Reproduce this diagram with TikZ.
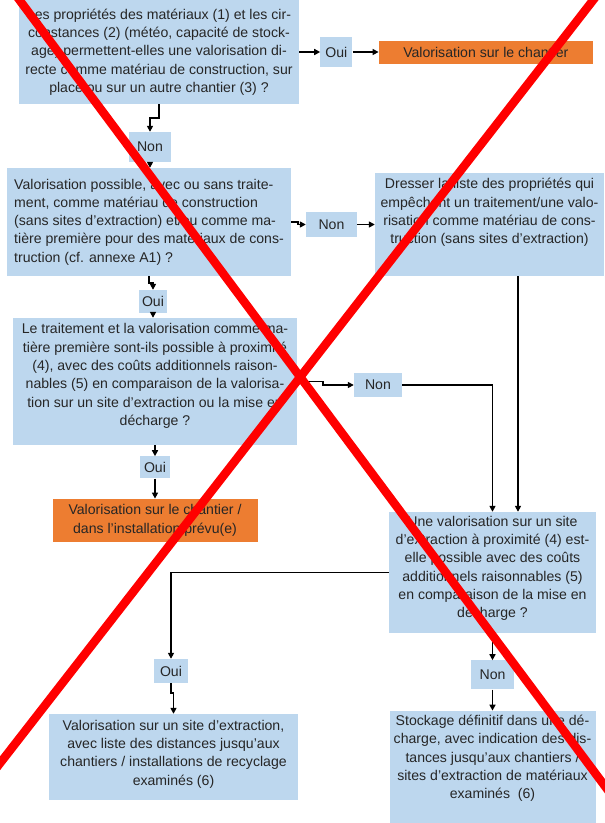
\documentclass[tikz,border=0pt]{standalone}
\usepackage{fontspec}
\setmainfont{Liberation Sans}
\usepackage{xcolor}
\usetikzlibrary{positioning,arrows.meta}

\definecolor{boxblue}{HTML}{BDD7EE}
\definecolor{boxorange}{HTML}{ED7D31}
\newcommand{\boxfont}{\fontsize{14.1}{18.3}\selectfont}

\begin{document}
\begin{tikzpicture}[
  x=1pt, y=-1pt,
  box/.style={fill=boxblue, text=black!85, align=center, inner xsep=4pt,
              inner ysep=3pt, font=\boxfont},
  res/.style={box, fill=boxorange},
  lbl/.style={fill=boxblue, text=black!85, inner sep=0pt, font=\boxfont},
  arr/.style={-{Triangle[length=6pt,width=6pt]}, line width=1.8pt},
  cross/.style={red, line width=8.5pt},
  node distance=20pt
]
  \useasboundingbox (0,0) rectangle (605,823);

  \node[box, minimum width=280pt, minimum height=104pt] (q1) at (159,52)
    {Les propriétés des matériaux (1) et les cir-\\
     constances (2) (météo, capacité de stock-\\
     age) permettent-elles une valorisation di-\\
     recte comme matériau de construction, sur\\
     place ou sur un autre chantier (3) ?};
  \node[lbl, minimum width=32pt, minimum height=30pt, right=21pt of q1] (oui1) {Oui};
  \node[res, minimum width=214pt, minimum height=23pt, right=26pt of oui1] (res1)
    {Valorisation sur le chantier};

  \node[lbl, minimum width=42pt, minimum height=30pt] (non1) at (150,147) {Non};

  \node[box, align=left, minimum width=284pt, minimum height=108pt] (q2)
    at (149,222)
    {Valorisation possible, avec ou sans traite-\\
     ment, comme matériau de construction\\
     (sans sites d’extraction) et/ou comme ma-\\
     tière première pour des matériaux de cons-\\
     truction (cf. annexe A1) ?};
  \node[lbl, minimum width=51pt, minimum height=25pt] (non2) at (331.5,224.5) {Non};
  \node[box, minimum width=229pt, minimum height=103pt, text depth=27pt] (info)
    at (489.5,224.5)
    {Dresser la liste des propriétés qui\\
     empêchent un traitement/une valo-\\
     risation comme matériau de cons-\\
     truction (sans sites d’extraction)};

  \node[lbl, minimum width=28pt, minimum height=23pt] (oui2) at (153,301.5) {Oui};

  \node[box, minimum width=284pt, minimum height=127pt, text depth=14pt] (q3)
    at (155,381.5)
    {Le traitement et la valorisation comme ma-\\
     tière première sont-ils possible à proximité\\
     (4), avec des coûts additionnels raison-\\
     nables (5) en comparaison de la valorisa-\\
     tion sur un site d’extraction ou la mise en\\
     décharge ?};
  \node[lbl, minimum width=48pt, minimum height=24pt] (non3) at (378,385) {Non};
  \node[lbl, minimum width=30pt, minimum height=22pt, below=11pt of q3] (oui3) {Oui};
  \node[res, minimum width=205pt, minimum height=43pt, below=of oui3] (res2)
    {Valorisation sur le chantier /\\
     dans l’installation prévu(e)};

  \node[box, minimum width=207pt, minimum height=121pt, text depth=11pt] (q4)
    at (492.5,572.5)
    {Une valorisation sur un site\\
     d’extraction à proximité (4) est-\\
     elle possible avec des coûts\\
     additionnels raisonnables (5)\\
     en comparaison de la mise en\\
     décharge ?};

  \node[lbl, minimum width=34pt, minimum height=24pt] (oui4) at (171,671) {Oui};
  \node[box, minimum width=249pt, minimum height=86pt, text depth=9pt] (res3)
    at (173.5,757)
    {Valorisation sur un site d’extraction,\\
     avec liste des distances jusqu’aux\\
     chantiers / installations de recyclage\\
     examinés (6)};

  \node[lbl, minimum width=43pt, minimum height=29pt, below=27pt of q4] (non4) {Non};
  \node[box, minimum width=206pt, minimum height=113pt, text depth=21pt,
        below=21pt of non4] (res4)
    {Stockage définitif dans une dé-\\
     charge, avec indication des dis-\\
     tances jusqu’aux chantiers /\\
     sites d’extraction de matériaux\\
     examinés~ (6)};

  % connectors
  \draw[arr] (q1.east) -- (oui1.west);
  \draw[arr] (oui1.east) -- (res1.west);
  \draw[arr] (q1.south) -- ++(0,14) -| (non1.north);
  \draw[arr] (non1.south) -- (non1.south |- q2.north);
  \draw[arr] (q2.east) -- ++(7,0) |- (non2.west);
  \draw[arr] (non2.east) -- (info.west |- non2);
  \draw[arr] (q2.south) -- ++(0,7) -| (oui2.north);
  \draw[arr] (oui2.south) -- (oui2.south |- q3.north);
  \draw[arr] (q3.east) -- ++(26,0) |- (non3.west);
  \draw[arr] (q3.south -| oui3) -- (oui3.north);
  \draw[arr] (oui3.south) -- (res2.north);
  \draw[arr] (non3.east) -| (q4.north);
  \draw[arr] ([xshift=28.5pt]info.south) -- ([xshift=28.5pt]info.south |- q4.north);
  \draw[arr] (q4.west) -| (oui4.north);
  \draw[arr] (oui4.south) -- ++(0,10) -| (res3.north);
  \draw[arr] (q4.south) -- (non4.north);
  \draw[arr] (non4.south) -- (res4.north);

  % red cross
  \begin{scope}
    \clip (0,0) rectangle (605,823);
    \draw[cross] (12,-10) -- (613,797);
    \draw[cross] (601,-10) -- (-6,771);
  \end{scope}
\end{tikzpicture}
\end{document}
